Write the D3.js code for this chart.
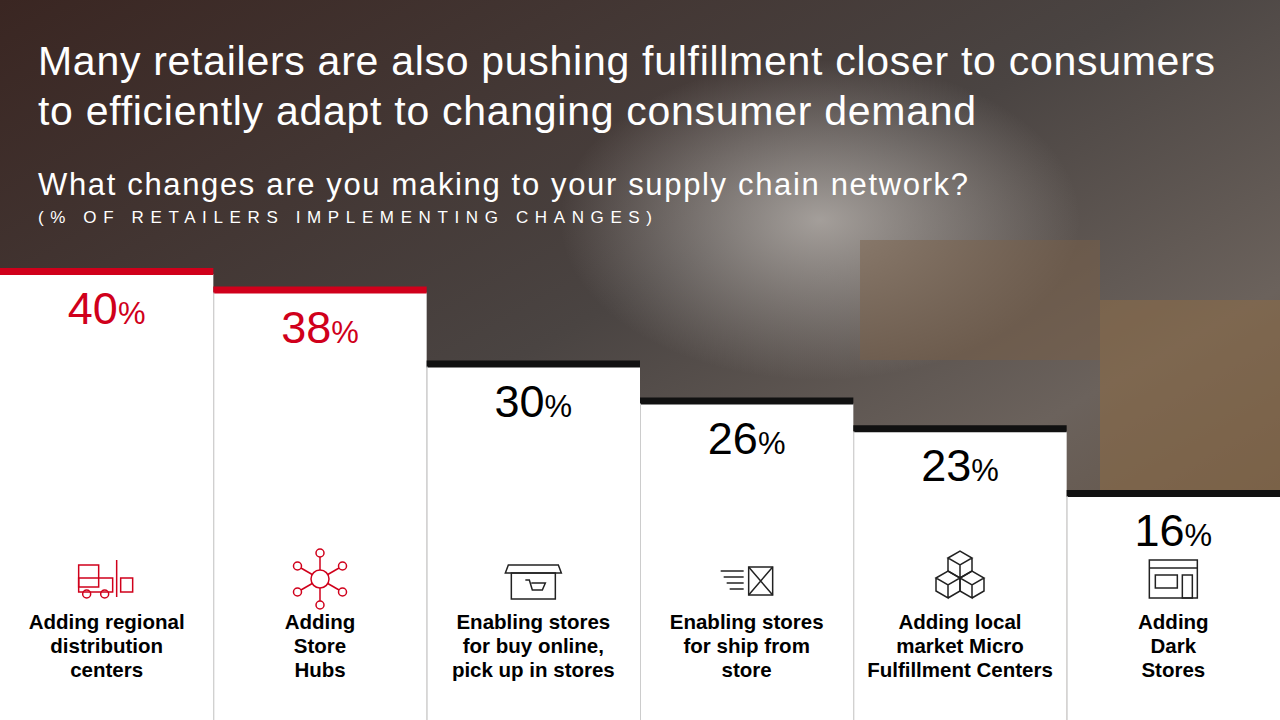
<!DOCTYPE html><html><head><meta charset="utf-8">
<script src="https://cdn.jsdelivr.net/npm/d3@7"></script>
<style>body{margin:0;background:#222}svg{display:block}</style></head><body>
<svg id="c" width="1280" height="720"></svg>
<script>
const categories=[["Adding regional","distribution","centers"],["Adding","Store","Hubs"],["Enabling stores","for buy online,","pick up in stores"],["Enabling stores","for ship from","store"],["Adding local","market Micro","Fulfillment Centers"],["Adding","Dark","Stores"]];
const values=[40,38,30,26,23,16];
const highlight=[true,true,false,false,false,false];
const svg=d3.select("#c");
const defs=svg.append("defs");
const g=defs.append("linearGradient").attr("id","bg").attr("x1",0).attr("y1",0).attr("x2",1).attr("y2",1);
g.append("stop").attr("offset",0).attr("stop-color","#3a2622");
g.append("stop").attr("offset",0.45).attr("stop-color","#4a4442");
g.append("stop").attr("offset",0.7).attr("stop-color","#6b625c");
g.append("stop").attr("offset",1).attr("stop-color","#5a4634");
svg.append("rect").attr("width",1280).attr("height",720).attr("fill","url(#bg)");
const rg=defs.append("radialGradient").attr("id","glow").attr("cx",0.5).attr("cy",0.5).attr("r",0.5);
rg.append("stop").attr("offset",0).attr("stop-color","#c9c4bf").attr("stop-opacity",0.7);
rg.append("stop").attr("offset",1).attr("stop-color","#c9c4bf").attr("stop-opacity",0);
svg.append("ellipse").attr("cx",820).attr("cy",220).attr("rx",260).attr("ry",160).attr("fill","url(#glow)");
svg.append("rect").attr("x",1100).attr("y",300).attr("width",180).attr("height",200).attr("fill","#8a6a48").attr("opacity",0.6);
svg.append("rect").attr("x",860).attr("y",240).attr("width",240).attr("height",120).attr("fill","#7a6048").attr("opacity",0.5);

const x=d3.scaleBand().domain(d3.range(6)).range([0,1280]);
const y=d3.scaleLinear().domain([16,40]).range([496,274]);
const cols=svg.selectAll("g.col").data(values).join("g").attr("class","col");
cols.append("rect").attr("x",(d,i)=>x(i)).attr("y",d=>y(d)).attr("width",x.bandwidth()).attr("height",d=>720-y(d)).attr("fill","#fff");
cols.append("rect").attr("x",(d,i)=>x(i)).attr("y",d=>y(d)-6).attr("width",x.bandwidth()).attr("height",7).attr("fill",(d,i)=>highlight[i]?"#d0001b":"#111");
cols.filter((d,i)=>i>0).append("line").attr("x1",(d,i)=>x(i+1)+0.5).attr("x2",(d,i)=>x(i+1)+0.5).attr("y1",d=>y(d)).attr("y2",720).attr("stroke","#ccc");
const t=cols.append("text").attr("x",(d,i)=>x(i)+x.bandwidth()/2).attr("y",d=>y(d)+50).attr("text-anchor","middle").attr("font-family","Liberation Sans, Arial").attr("fill",(d,i)=>highlight[i]?"#d0001b":"#000");
t.append("tspan").attr("font-size",45).text(d=>d);
t.append("tspan").attr("font-size",31).text("%");
cols.each(function(d,i){
  const tx=d3.select(this).append("text").attr("text-anchor","middle").attr("font-family","Liberation Sans, Arial").attr("font-weight","bold").attr("font-size",20.5).attr("fill","#000");
  categories[i].forEach((l,k)=>tx.append("tspan").attr("x",x(i)+x.bandwidth()/2).attr("y",629+k*24).text(l));
  const cx=x(i)+x.bandwidth()/2, ic=d3.select(this).append("g").attr("fill","none").attr("stroke",highlight[i]?"#d0001b":"#222").attr("stroke-width",1.5);
  if(i===0){ic.append("rect").attr("x",cx-28).attr("y",565).attr("width",20).attr("height",22);ic.append("rect").attr("x",cx-28).attr("y",578).attr("width",34).attr("height",14);ic.append("circle").attr("cx",cx-20).attr("cy",594).attr("r",4);ic.append("circle").attr("cx",cx-2).attr("cy",594).attr("r",4);ic.append("line").attr("x1",cx+10).attr("x2",cx+10).attr("y1",560).attr("y2",597);ic.append("rect").attr("x",cx+14).attr("y",578).attr("width",12).attr("height",14);}
  if(i===1){ic.append("circle").attr("cx",cx).attr("cy",579).attr("r",9);[0,60,120,180,240,300].forEach(a=>{const r=a*Math.PI/180;ic.append("line").attr("x1",cx+9*Math.sin(r)).attr("y1",579-9*Math.cos(r)).attr("x2",cx+22*Math.sin(r)).attr("y2",579-22*Math.cos(r));ic.append("circle").attr("cx",cx+26*Math.sin(r)).attr("cy",579-26*Math.cos(r)).attr("r",4);});}
  if(i===2){ic.append("path").attr("d",`M${cx-25},565 h50 l3,8 h-56 z`);ic.append("rect").attr("x",cx-22).attr("y",573).attr("width",44).attr("height",26);ic.append("path").attr("d",`M${cx-8},580 h4 l3,10 h10 l3,-7 h-14`);}
  if(i===3){ic.append("rect").attr("x",cx+2).attr("y",567).attr("width",24).attr("height",28);ic.append("path").attr("d",`M${cx+2},567 l24,28 M${cx+26},567 l-24,28`);[571,577,583,589].forEach((yy,k)=>ic.append("line").attr("x1",cx-26+k*3).attr("x2",cx-3).attr("y1",yy).attr("y2",yy));}
  if(i===4){const cube=(ox,oy)=>ic.append("path").attr("d",`M${ox},${oy} l12,-7 l12,7 l-12,7 z M${ox},${oy} v13 l12,7 v-13 M${ox+24},${oy} v13 l-12,7`);cube(cx-12,558);cube(cx-24,578);cube(cx,578);}
  if(i===5){ic.append("rect").attr("x",cx-24).attr("y",560).attr("width",48).attr("height",38);ic.append("line").attr("x1",cx-24).attr("x2",cx+24).attr("y1",568).attr("y2",568);ic.append("rect").attr("x",cx-18).attr("y",575).attr("width",22).attr("height",13);ic.append("rect").attr("x",cx+9).attr("y",575).attr("width",10).attr("height",23);}
});
const tf="Liberation Sans, Arial";
const T=(yy,fs,s,w,ls)=>svg.append("text").attr("x",38).attr("y",yy).attr("fill","#fff").attr("font-family",tf).attr("font-size",fs).attr("textLength",w).attr("lengthAdjust","spacing").text(s);
T(75,41,"Many retailers are also pushing fulfillment closer to consumers",1177);
T(125,41,"to efficiently adapt to changing consumer demand",938);
T(195,31,"What changes are you making to your supply chain network?",930);
T(223,17,"(% OF RETAILERS IMPLEMENTING CHANGES)",614);
</script></body></html>
